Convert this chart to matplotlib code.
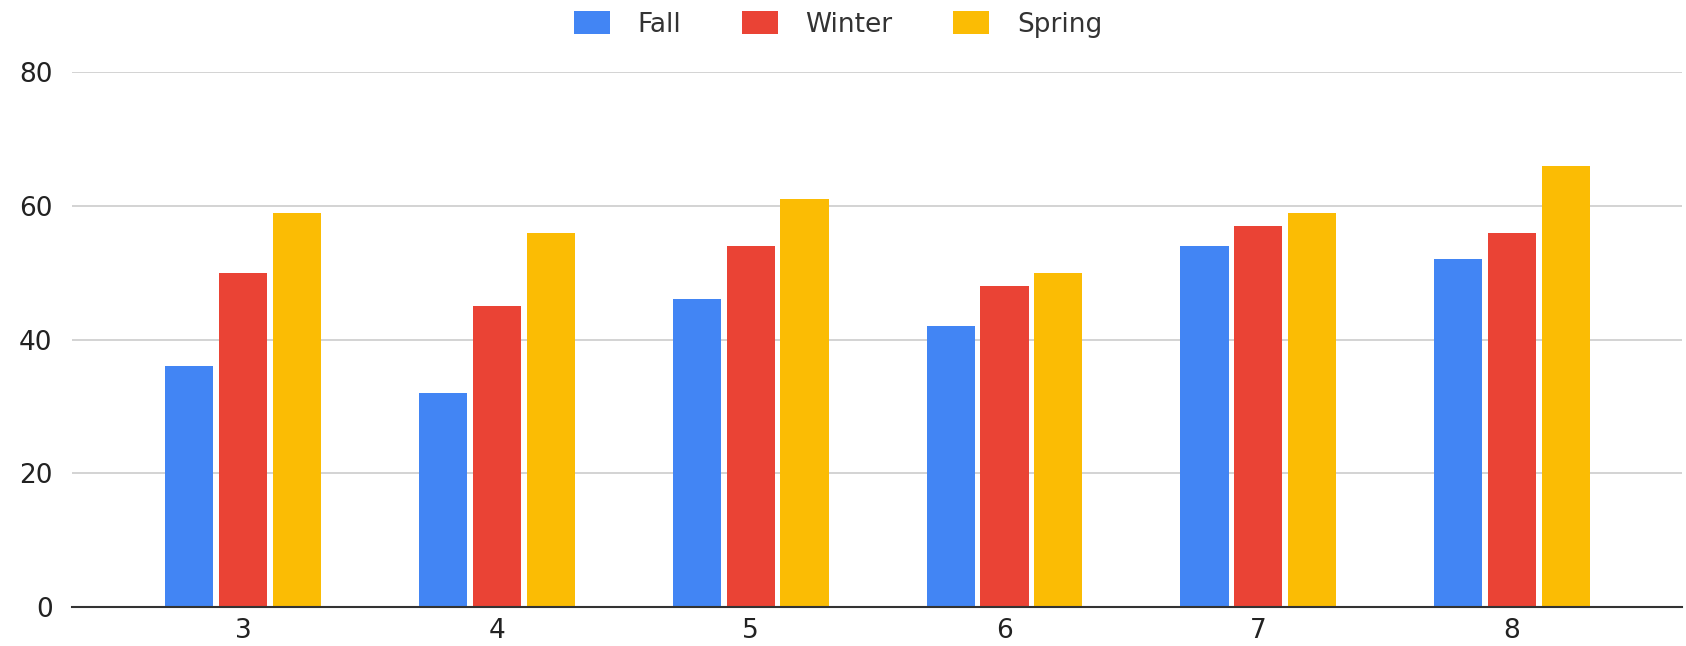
import matplotlib.pyplot as plt
import numpy as np

plt.rcParams['font.family'] = ['DejaVu Sans']

grados = ['3', '4', '5', '6', '7', '8']
fall = [36, 32, 46, 42, 54, 52]
winter = [50, 45, 54, 48, 57, 56]
spring = [59, 56, 61, 50, 59, 66]

colores = ['#4285F4', '#EA4335', '#FBBC04']
series = [('Fall', fall), ('Winter', winter), ('Spring', spring)]

fig = plt.figure(figsize=(16.86, 6.46), dpi=100)
ax = fig.add_axes([0.0427, 0.0604, 0.955, 0.828])

x = np.arange(len(grados))
ancho = 0.19
paso = 0.212
for i, (nombre, vals) in enumerate(series):
    ax.bar(x + (i - 1) * paso, vals, width=ancho, color=colores[i], label=nombre, zorder=3)

ax.set_xlim(-0.674, 5.67)
ax.set_ylim(0, 80)
ax.set_yticks([0, 20, 40, 60, 80])
ax.set_xticks(x)
ax.set_xticklabels(grados)
ax.yaxis.grid(True, color='#cccccc', linewidth=1.2, zorder=0)
ax.tick_params(axis='both', length=0, labelsize=19, colors='#222222')
ax.tick_params(axis='y', pad=14)
ax.tick_params(axis='x', pad=8)
for lado in ['top', 'right', 'left']:
    ax.spines[lado].set_visible(False)
ax.spines['bottom'].set_color('#333333')
ax.spines['bottom'].set_linewidth(1.5)
ax.spines['bottom'].set_zorder(4)

fig.legend(loc='center', bbox_to_anchor=(0.497, 0.962), ncol=3, frameon=False,
           fontsize=19, handlelength=1.36, handleheight=0.91, columnspacing=2.3,
           handletextpad=1.05, labelcolor='#333333', borderpad=0)

plt.savefig('out.png', dpi=100)
